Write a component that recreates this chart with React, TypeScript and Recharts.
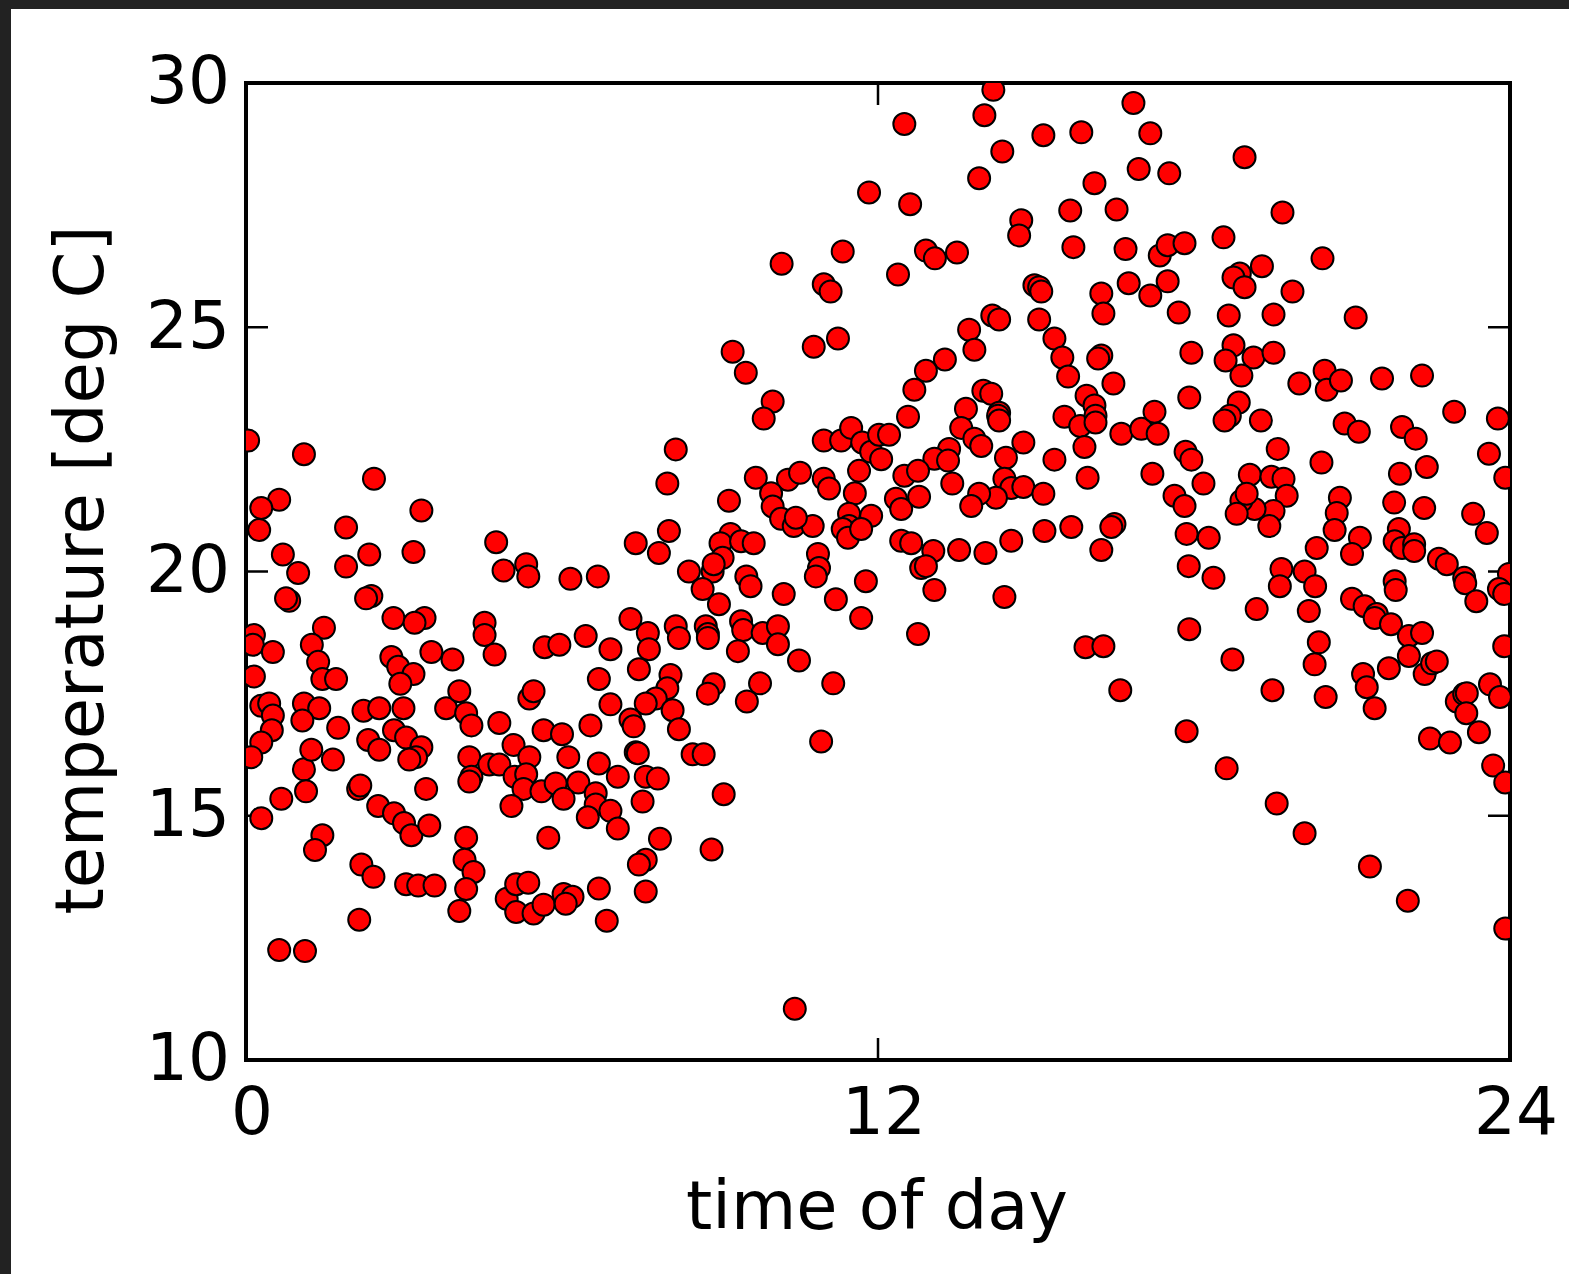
import React from "react";
import { ScatterChart, Scatter, XAxis, YAxis } from "recharts";

// [hour, temperature] pairs, split by part of the day
const nightPoints: [number, number][] = [
  [0.04, 22.68], [1.1, 22.4], [2.43, 21.9], [0.63, 21.47], [0.29, 21.3], [0.25, 20.85],
  [1.9, 20.9], [3.33, 21.25], [0.7, 20.35], [0.99, 19.97], [1.9, 20.1], [2.34, 20.35],
  [3.18, 20.4], [4.75, 20.6], [4.89, 20.02], [5.32, 20.15], [5.36, 19.9], [0.82, 19.4],
  [0.76, 19.45], [2.38, 19.5], [2.28, 19.45], [2.8, 19.05], [3.39, 19.05], [3.2, 18.95],
  [4.53, 18.95], [4.53, 18.7], [4.72, 18.3], [0.15, 18.7], [0.13, 18.5], [0.51, 18.35],
  [1.48, 18.85], [1.25, 18.5], [1.37, 18.15], [1.45, 17.8], [1.71, 17.8], [0.15, 17.85],
  [2.76, 18.25], [2.89, 18.05], [3.18, 17.9], [2.93, 17.7], [3.52, 18.35], [3.92, 18.2],
  [0.29, 17.25], [0.44, 17.3], [0.51, 17.05], [0.49, 16.75], [0.29, 16.5], [0.1, 16.2],
  [1.1, 17.3], [1.39, 17.2], [1.07, 16.95], [1.75, 16.8], [2.23, 17.15], [2.53, 17.2],
  [2.99, 17.2], [2.32, 16.55], [2.53, 16.35], [2.81, 16.75], [3.04, 16.6], [3.33, 16.4],
  [3.23, 16.2], [3.1, 16.15], [3.8, 17.2], [4.05, 17.55], [4.18, 17.1], [4.28, 16.85],
  [4.81, 16.9], [5.38, 17.4], [5.46, 17.55], [5.67, 18.45], [5.65, 16.75], [4.24, 16.2],
  [4.28, 15.8], [4.24, 15.7], [4.62, 16.05], [4.81, 16.05], [5.08, 16.45], [5.38, 16.2],
  [5.1, 15.8], [5.32, 15.85], [5.27, 15.55], [5.61, 15.5], [5.04, 15.2], [5.74, 14.55],
  [1.1, 15.95], [1.24, 16.35], [1.14, 15.5], [1.65, 16.15], [0.67, 15.35], [0.29, 14.95],
  [1.45, 14.6], [1.31, 14.3], [2.13, 15.55], [2.17, 15.62], [2.51, 15.2], [2.81, 15.05],
  [3.0, 14.85], [3.14, 14.6], [3.48, 14.8], [3.42, 15.55], [4.18, 14.55], [4.15, 14.1],
  [4.32, 13.85], [4.18, 13.5], [4.05, 13.05], [2.19, 14.0], [2.42, 13.75], [3.04, 13.6],
  [3.27, 13.57], [3.58, 13.57], [2.15, 12.87], [0.63, 12.25], [1.12, 12.23], [4.95, 13.3],
  [5.13, 13.6], [5.36, 13.63], [5.13, 13.03], [5.46, 13.0], [5.65, 13.18], [5.95, 18.5],
  [5.88, 15.66],
];

const morningPoints: [number, number][] = [
  [6.16, 19.85], [6.68, 19.9], [8.41, 20.0], [8.86, 20.0], [9.5, 19.9], [9.58, 19.7],
  [8.67, 19.64], [8.98, 19.33], [10.21, 19.54], [10.86, 20.36], [10.88, 20.07], [10.82, 19.9],
  [11.77, 19.8], [11.2, 19.43], [11.68, 19.05], [7.3, 19.03], [7.63, 18.74], [7.65, 18.41],
  [7.46, 18.0], [8.16, 18.88], [8.22, 18.64], [8.73, 18.88], [8.77, 18.72], [8.77, 18.64],
  [9.4, 18.98], [9.44, 18.8], [9.34, 18.37], [9.81, 18.74], [10.1, 18.88], [10.1, 18.51],
  [10.5, 18.18], [6.45, 18.68], [6.92, 18.41], [6.7, 17.8], [6.92, 17.28], [8.06, 17.88],
  [8.0, 17.61], [7.78, 17.4], [7.59, 17.3], [8.1, 17.16], [8.22, 16.77], [8.88, 17.69],
  [8.77, 17.5], [9.76, 17.71], [9.51, 17.34], [11.15, 17.71], [10.92, 16.52], [7.3, 16.97],
  [7.36, 16.83], [6.54, 16.85], [6.0, 16.67], [6.12, 16.2], [7.4, 16.3], [7.44, 16.28],
  [6.7, 16.07], [7.06, 15.8], [7.59, 15.8], [7.82, 15.76], [8.48, 16.26], [8.69, 16.26],
  [9.07, 15.44], [6.31, 15.68], [6.03, 15.35], [6.64, 15.46], [6.64, 15.23], [6.92, 15.1],
  [6.49, 14.97], [7.06, 14.74], [7.53, 15.29], [7.86, 14.53], [8.84, 14.31], [7.59, 14.1],
  [7.46, 14.0], [6.03, 13.4], [6.2, 13.34], [6.07, 13.2], [6.7, 13.51], [7.59, 13.45],
  [6.85, 12.85], [10.42, 11.05], [11.83, 27.76], [11.33, 26.55], [10.17, 26.3], [10.97, 25.88],
  [11.1, 25.73], [10.78, 24.6], [11.24, 24.77], [9.24, 24.5], [9.49, 24.07], [10.0, 23.48],
  [9.83, 23.13], [8.16, 22.5], [8.0, 21.8], [10.97, 22.68], [11.3, 22.68], [11.49, 22.94],
  [11.7, 22.64], [11.87, 22.45], [11.64, 22.06], [9.68, 21.92], [10.29, 21.88], [10.52, 22.02],
  [9.97, 21.6], [10.0, 21.33], [9.17, 21.45], [10.97, 21.9], [11.07, 21.7], [11.56, 21.6],
  [11.45, 21.18], [11.87, 21.14], [11.45, 20.93], [11.33, 20.87], [11.43, 20.69], [11.68, 20.87],
  [10.16, 21.08], [10.4, 20.93], [10.76, 20.93], [10.44, 21.1], [7.4, 20.58], [7.84, 20.38],
  [8.03, 20.83], [9.2, 20.77], [9.01, 20.58], [9.4, 20.62], [9.64, 20.58], [9.05, 20.28],
  [8.88, 20.15],
];

const afternoonPoints: [number, number][] = [
  [12.02, 22.8], [12.06, 22.3], [14.19, 29.86], [16.85, 29.59], [14.02, 29.34], [12.5, 29.16],
  [15.14, 28.93], [15.86, 28.99], [17.17, 28.97], [14.36, 28.6], [13.92, 28.05], [16.95, 28.24],
  [17.53, 28.15], [16.11, 27.95], [12.61, 27.52], [15.65, 27.39], [16.53, 27.41], [14.72, 27.19],
  [14.68, 26.88], [12.91, 26.57], [13.08, 26.41], [13.5, 26.53], [12.38, 26.08], [15.71, 26.64],
  [16.7, 26.6], [17.35, 26.47], [17.5, 26.68], [17.82, 26.72], [14.97, 25.86], [15.06, 25.82],
  [15.1, 25.73], [16.24, 25.69], [16.28, 25.28], [16.76, 25.9], [17.17, 25.65], [17.5, 25.94],
  [17.71, 25.3], [14.17, 25.24], [14.3, 25.16], [13.73, 24.95], [13.83, 24.54], [15.06, 25.16],
  [15.35, 24.77], [15.5, 24.38], [15.61, 23.99], [16.24, 24.42], [16.18, 24.36], [16.47, 23.85],
  [13.27, 24.34], [12.91, 24.11], [12.69, 23.72], [12.57, 23.17], [12.21, 22.8], [14.0, 23.7],
  [14.15, 23.64], [14.3, 23.25], [14.28, 23.19], [14.3, 23.09], [13.67, 23.33], [13.58, 22.94],
  [13.83, 22.72], [13.96, 22.57], [13.35, 22.51], [13.07, 22.31], [13.33, 22.27], [12.5, 21.96],
  [12.76, 22.06], [12.34, 21.49], [12.44, 21.28], [12.78, 21.53], [13.41, 21.8], [14.76, 22.64],
  [14.43, 22.33], [14.4, 21.9], [14.53, 21.71], [14.76, 21.73], [15.14, 21.59], [14.24, 21.51],
  [13.92, 21.59], [13.77, 21.34], [15.35, 22.29], [15.54, 23.17], [15.84, 22.98], [15.96, 23.6],
  [16.11, 23.4], [16.13, 23.19], [16.13, 23.05], [15.92, 22.55], [15.98, 21.92], [16.62, 22.82],
  [17.0, 22.92], [17.31, 22.82], [17.25, 23.27], [17.84, 22.45], [17.95, 22.29], [17.91, 23.56],
  [17.95, 24.48], [17.21, 22.0], [17.63, 21.55], [17.82, 21.34], [12.44, 20.63], [12.63, 20.58],
  [13.05, 20.42], [13.54, 20.44], [14.04, 20.38], [14.53, 20.63], [15.16, 20.83], [15.67, 20.91],
  [16.49, 20.97], [16.43, 20.91], [16.24, 20.44], [17.86, 20.77], [12.82, 20.07], [12.91, 20.11],
  [17.9, 20.11], [13.07, 19.62], [14.4, 19.48], [12.76, 18.72], [15.94, 18.45], [16.28, 18.47],
  [16.6, 17.57], [17.86, 16.73], [17.91, 18.82],
];

const eveningPoints: [number, number][] = [
  [18.96, 28.48], [19.68, 27.35], [18.56, 26.84], [20.44, 26.41], [19.29, 26.25], [18.87, 26.1],
  [18.75, 26.02], [18.96, 25.82], [19.87, 25.73], [18.66, 25.24], [19.51, 25.26], [21.07, 25.2],
  [18.75, 24.63], [18.6, 24.32], [19.13, 24.38], [19.51, 24.48], [18.9, 24.01], [20.0, 23.85],
  [20.48, 24.11], [20.52, 23.72], [20.79, 23.91], [21.57, 23.95], [22.33, 24.01], [18.85, 23.46],
  [18.68, 23.19], [18.58, 23.09], [19.27, 23.09], [20.86, 23.03], [21.13, 22.86], [21.95, 22.96],
  [22.21, 22.72], [22.94, 23.27], [23.77, 23.13], [19.59, 22.51], [20.42, 22.23], [18.18, 21.8],
  [19.06, 21.98], [19.47, 21.94], [19.7, 21.9], [19.76, 21.55], [19.51, 21.24], [19.43, 20.93],
  [19.15, 21.28], [18.9, 21.45], [18.81, 21.18], [19.0, 21.59], [21.91, 22.0], [22.42, 22.14],
  [23.6, 22.41], [23.91, 21.92], [20.77, 21.51], [20.71, 21.2], [20.67, 20.85], [21.8, 21.41],
  [22.37, 21.3], [23.3, 21.18], [23.56, 20.79], [18.28, 20.69], [20.33, 20.48], [21.15, 20.69],
  [21.0, 20.36], [21.89, 20.87], [21.81, 20.62], [21.95, 20.48], [22.18, 20.56], [22.18, 20.42],
  [22.65, 20.26], [22.8, 20.15], [23.13, 19.87], [23.98, 19.95], [18.37, 19.87], [19.66, 20.05],
  [19.63, 19.7], [20.1, 20.0], [20.3, 19.7], [21.81, 19.8], [19.19, 19.23], [20.18, 19.19],
  [21.83, 19.62], [21.0, 19.44], [21.24, 19.29], [21.47, 19.13], [21.43, 19.05], [21.74, 18.92],
  [22.08, 18.68], [22.33, 18.74], [22.08, 18.27], [22.38, 17.9], [22.52, 18.12], [22.61, 18.16],
  [23.15, 19.76], [23.36, 19.39], [23.79, 19.64], [23.89, 19.54], [20.37, 18.55], [20.29, 18.1],
  [18.73, 18.2], [19.49, 17.57], [20.5, 17.43], [21.21, 17.9], [21.28, 17.63], [21.43, 17.2],
  [21.7, 18.02], [23.89, 18.47], [22.99, 17.34], [23.13, 17.49], [23.18, 17.51], [23.17, 17.1],
  [23.41, 16.71], [23.62, 17.69], [23.81, 17.43], [22.48, 16.58], [22.86, 16.5], [23.68, 16.03],
  [23.91, 15.68], [18.62, 15.97], [19.57, 15.25], [20.1, 14.64], [21.34, 13.96], [22.06, 13.26],
  [23.91, 12.69],
];

const xTicks = [0, 12, 24];
const yTicks = [10, 15, 20, 25, 30];

const data = [...nightPoints, ...morningPoints, ...afternoonPoints, ...eveningPoints].map(
  ([hour, temp]) => ({ hour, temp })
);

const FONT = "DejaVu Sans, sans-serif";
const tickFont = { fontSize: 66, fill: "#000", fontFamily: FONT };
const axisLine = { stroke: "#000", strokeWidth: 4, strokeLinecap: "square" as const };
const tickLine = { stroke: "#000", strokeWidth: 2.5 };

const RedDot = (props: any) => (
  <circle cx={props.cx} cy={props.cy} r={11} fill="#ff0000" stroke="#000" strokeWidth={2} />
);

// keeps the tick line but draws no label (top and right axes)
const NoLabel = () => <g />;

export default function App() {
  return (
    <div style={{ position: "relative", width: 1569, height: 1274, background: "#222" }}>
      <style>{"body{margin:0}"}</style>
      <div style={{ position: "absolute", left: 11, top: 9, right: 0, bottom: 0, background: "#fff" }} />
      <div style={{ position: "absolute", left: 0, top: 0 }}>
        <ScatterChart width={1569} height={1274} margin={{ top: 82, right: 58, bottom: 114, left: 96 }}>
          <Scatter
            data={data}
            dataKey="temp"
            xAxisId="b"
            yAxisId="l"
            shape={RedDot}
            isAnimationActive={false}
          />
          <XAxis
            xAxisId="b"
            dataKey="hour"
            type="number"
            domain={[0, 24]}
            ticks={xTicks}
            allowDataOverflow
            height={100}
            tickSize={-22}
            tickMargin={49}
            tick={{ ...tickFont, dx: 6 }}
            axisLine={axisLine}
            tickLine={tickLine}
          />
          <XAxis
            xAxisId="t"
            orientation="top"
            dataKey="hour"
            type="number"
            domain={[0, 24]}
            ticks={xTicks}
            allowDataOverflow
            height={1}
            tickSize={-22}
            tick={NoLabel}
            axisLine={axisLine}
            tickLine={tickLine}
          />
          <YAxis
            yAxisId="l"
            dataKey="temp"
            type="number"
            domain={[10, 30]}
            ticks={yTicks}
            allowDataOverflow
            width={150}
            tickSize={-22}
            tickMargin={38}
            tick={{ ...tickFont, dy: -3 }}
            axisLine={axisLine}
            tickLine={tickLine}
          />
          <YAxis
            yAxisId="r"
            orientation="right"
            dataKey="temp"
            type="number"
            domain={[10, 30]}
            ticks={yTicks}
            allowDataOverflow
            width={1}
            tickSize={-22}
            tick={NoLabel}
            axisLine={axisLine}
            tickLine={tickLine}
          />
        </ScatterChart>
      </div>
      <svg
        width={1569}
        height={1274}
        style={{ position: "absolute", left: 0, top: 0, pointerEvents: "none" }}
      >
        <text x={877} y={1229} textAnchor="middle" fontSize={67} fontFamily={FONT} fill="#000">
          time of day
        </text>
        <text
          transform="translate(103,570) rotate(-90)"
          textAnchor="middle"
          fontSize={67}
          fontFamily={FONT}
          fill="#000"
        >
          temperature [deg C]
        </text>
      </svg>
    </div>
  );
}
